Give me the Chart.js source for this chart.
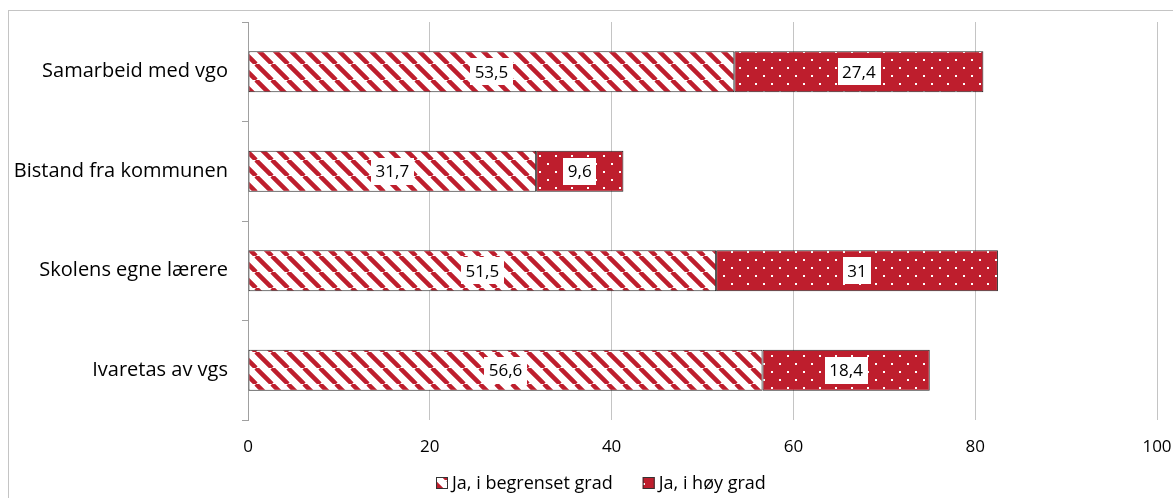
<!DOCTYPE html>
<html>
<head>
<meta charset="utf-8">
<script src="https://cdn.jsdelivr.net/npm/chart.js@4"></script>
<style>
  html, body { margin: 0; padding: 0; background: #fff; overflow: hidden; }
  #wrap { position: absolute; left: 0; top: 0; width: 1173px; height: 498px; }
</style>
</head>
<body>
<div id="wrap"><canvas id="chart"></canvas></div>
<script>
// data
const categories = ['Samarbeid med vgo', 'Bistand fra kommunen', 'Skolens egne lærere', 'Ivaretas av vgs'];
const seriesNames = ['Ja, i begrenset grad', 'Ja, i høy grad'];
const begrensetGrad = [53.5, 31.7, 51.5, 56.6];
const hoyGrad = [27.4, 9.6, 31, 18.4];
const xTicks = [0, 20, 40, 60, 80, 100];

const RED = '#BE1E2D';
const FONT = '"Open Sans", "DejaVu Sans", sans-serif';

// diagonal stripes "\" red on white
function stripePattern() {
    const s = 16;
    const p = document.createElement('canvas');
    p.width = s; p.height = s;
    const g = p.getContext('2d');
    g.fillStyle = '#fff';
    g.fillRect(0, 0, s, s);
    g.strokeStyle = RED;
    g.lineWidth = 4.5;
    g.beginPath();
    [-s, 0, s].forEach(x0 => { g.moveTo(x0, 0); g.lineTo(x0 + s, s); });
    g.stroke();
    return g.createPattern(p, 'repeat');
}

// red with small white dots
function dotPattern() {
    const s = 16;
    const p = document.createElement('canvas');
    p.width = s; p.height = s;
    const g = p.getContext('2d');
    g.fillStyle = RED;
    g.fillRect(0, 0, s, s);
    g.fillStyle = '#fff';
    g.fillRect(3, 3, 2, 2);
    g.fillRect(11, 11, 2, 2);
    return g.createPattern(p, 'repeat');
}

const fmt = v => String(v).replace('.', ',');

// outer chart frame
const framePlugin = {
    id: 'frame',
    beforeDraw(chart) {
        const c = chart.ctx;
        c.save();
        c.strokeStyle = '#c4c4c4';
        c.lineWidth = 1;
        c.strokeRect(8.5, 10.5, 1170, 495);
        c.restore();
    }
};

// value labels in white boxes
const labelPlugin = {
    id: 'valueLabels',
    afterDatasetsDraw(chart) {
        const c = chart.ctx;
        c.save();
        c.font = '17px ' + FONT;
        c.textAlign = 'center';
        c.textBaseline = 'middle';
        chart.data.datasets.forEach((ds, i) => {
            chart.getDatasetMeta(i).data.forEach((bar, j) => {
                const txt = fmt(ds.data[j]);
                const cx = (bar.x + bar.base) / 2;
                const cy = bar.y;
                const w = c.measureText(txt).width + 9;
                const h = 27;
                c.fillStyle = '#fff';
                c.fillRect(Math.round(cx - w / 2), Math.round(cy - h / 2), Math.round(w), h);
                c.fillStyle = '#000';
                c.fillText(txt, cx, cy + 1);
            });
        });
        c.restore();
    }
};

// legend at bottom
const legendPlugin = {
    id: 'bottomLegend',
    afterDraw(chart) {
        const c = chart.ctx;
        c.save();
        c.font = '18px ' + FONT;
        c.textBaseline = 'middle';
        const box = 12, gapText = 4, gapItem = 30;
        const ds = chart.data.datasets;
        const widths = ds.map(d => box + gapText + c.measureText(d.label).width);
        const total = widths.reduce((a, b) => a + b, 0) + gapItem * (ds.length - 1);
        let x = Math.round(601 - total / 2);
        const y = 483;
        ds.forEach((d, i) => {
            c.fillStyle = d.backgroundColor;
            c.fillRect(x, y - 6, box, box);
            c.strokeStyle = '#333';
            c.lineWidth = 1;
            c.strokeRect(x + 0.5, y - 5.5, box - 1, box - 1);
            c.fillStyle = '#000';
            c.fillText(d.label, x + box + gapText, y + 1);
            x += widths[i] + gapItem;
        });
        c.restore();
    }
};

const ctx = document.getElementById('chart').getContext('2d');
new Chart(ctx, {
    type: 'bar',
    data: {
        labels: categories,
        datasets: [
            {
                label: seriesNames[0],
                data: begrensetGrad,
                backgroundColor: stripePattern(),
                borderColor: '#222',
                borderWidth: 1,
                borderSkipped: false
            },
            {
                label: seriesNames[1],
                data: hoyGrad,
                backgroundColor: dotPattern(),
                borderColor: '#222',
                borderWidth: 1,
                borderSkipped: false
            }
        ]
    },
    options: {
        indexAxis: 'y',
        responsive: true,
        maintainAspectRatio: false,
        animation: false,
        datasets: { bar: { categoryPercentage: 1, barPercentage: 0.41 } },
        layout: { padding: { left: 0, right: 16, top: 22, bottom: 41 } },
        plugins: {
            legend: { display: false },
            tooltip: { enabled: false }
        },
        scales: {
            x: {
                stacked: true,
                min: 0,
                max: 100,
                afterBuildTicks: s => { s.ticks = xTicks.map(v => ({ value: v })); },
                afterFit: s => { s.height = 37; s.paddingLeft = 0; s.paddingRight = 0; },
                grid: { color: '#c4c4c4', drawTicks: false },
                border: { display: false },
                ticks: { font: { family: FONT, size: 17 }, color: '#000', padding: 17, maxRotation: 0 }
            },
            y: {
                stacked: true,
                afterFit: s => { s.width = 248; s.paddingTop = 0; s.paddingBottom = 0; },
                grid: { display: true, drawOnChartArea: false, offset: true, tickLength: 6, color: '#a0a0a0' },
                border: { display: true, color: '#a0a0a0' },
                ticks: { font: { family: FONT, size: 20 }, color: '#000', padding: 14 }
            }
        }
    },
    plugins: [framePlugin, labelPlugin, legendPlugin]
});
</script>
</body>
</html>
